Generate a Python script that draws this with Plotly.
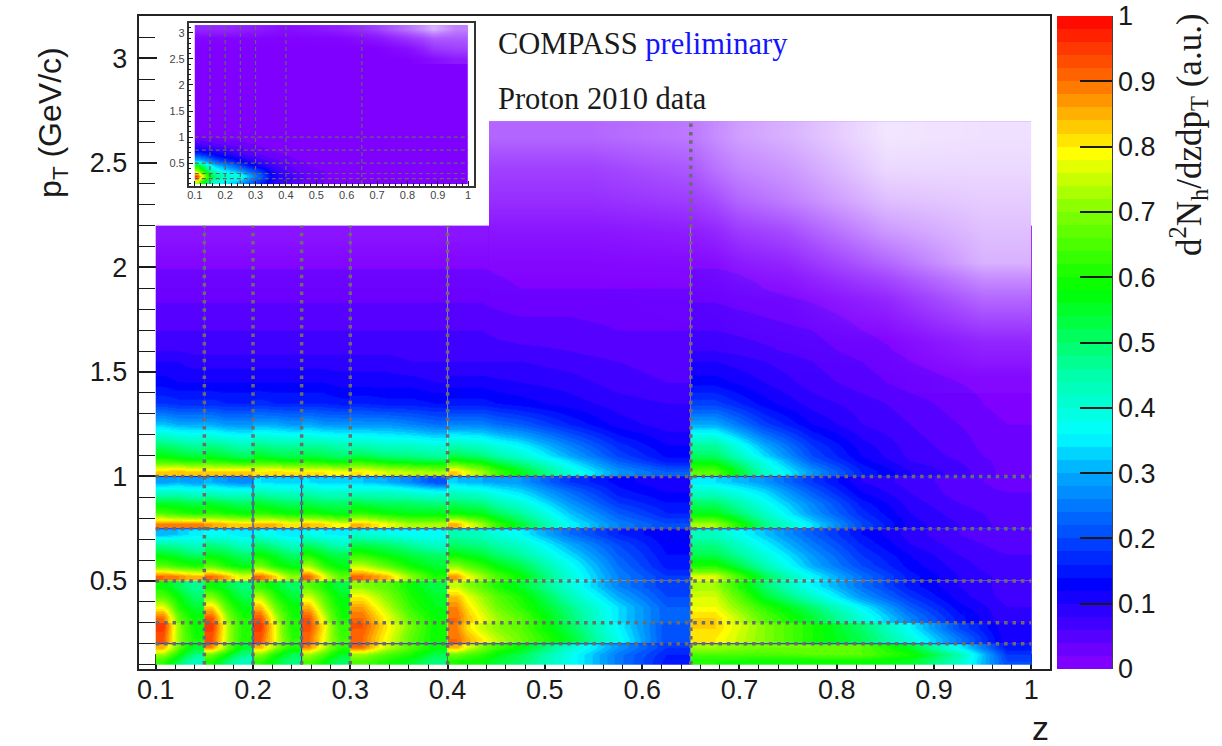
import plotly.graph_objects as go

W, H = 1222, 746

# ---- sub-cell edges in z (one list per analysis z bin)
zbin_edges = [
    [0.10, 0.115, 0.13, 0.15],
    [0.15, 0.165, 0.18, 0.20],
    [0.20, 0.215, 0.23, 0.25],
    [0.25, 0.265, 0.28, 0.30],
    [0.30, 0.325, 0.35, 0.375, 0.40],
    [0.40, 0.42, 0.45, 0.50, 0.55, 0.60, 0.65],
    [0.65, 0.70, 0.75, 0.80, 0.85, 0.90, 0.95, 1.00],
]

# ---- values, in percent of the colour scale; rows run low pT to high pT
pt_edges_a = [0.10, 0.133, 0.166, 0.20]
band_a = [
    [62,52,42, 60,50,42, 62,55,48, 65,58,50, 65,60,55,48, 60,58,50,38,25,15, 60,58,58,58,55,42,20],
    [72,60,48, 68,58,48, 70,60,52, 72,65,55, 72,65,60,52, 68,62,52,38,25,16, 65,65,66,66,60,45,18],
    [85,68,55, 88,70,55, 85,72,60, 88,75,62, 90,75,65,58, 85,70,58,42,28,18, 72,68,68,66,55,36,14],
]
pt_edges_b = [0.20, 0.25, 0.30]
band_b = [
    [92,72,60, 92,75,60, 92,78,62, 90,78,64, 90,78,66,58, 90,80,68,55,38,20, 80,70,60,52,40,25,10],
    [95,72,58, 95,75,60, 95,78,60, 93,80,62, 92,80,68,58, 88,75,66,52,36,20, 82,70,60,50,36,20,10],
]
pt_edges_c = [0.30, 0.35, 0.40, 0.45, 0.50]
band_c = [
    [90,68,58, 92,72,60, 92,75,60, 92,76,60, 90,78,66,58, 90,78,66,50,34,22, 82,66,54,40,26,15,8],
    [78,62,54, 82,66,56, 84,68,58, 85,70,58, 86,74,62,56, 88,75,62,48,34,22, 78,62,50,36,22,13,8],
    [66,58,50, 70,60,52, 74,62,54, 76,66,56, 80,70,60,55, 84,72,60,44,30,20, 76,55,42,28,18,11,7],
    [58,52,46, 58,54,48, 62,56,50, 66,60,52, 70,66,58,52, 75,66,55,40,26,18, 72,50,36,24,15,10,7],
]
pt_edges_d = [0.50, 0.55, 0.60, 0.65, 0.70, 0.75]
band_d = [
    [90,88,84, 90,85,76, 90,82,70, 90,78,66, 90,84,70,60, 86,72,58,40,26,18, 76,52,36,24,15,10,7],
    [66,62,60, 66,60,56, 68,60,56, 72,62,56, 74,66,58,54, 70,62,52,38,24,15, 60,44,30,20,13,9,6],
    [56,54,50, 56,54,50, 58,55,50, 60,55,52, 62,57,53,50, 58,54,46,34,22,14, 52,40,28,18,12,8,6],
    [46,45,42, 48,46,42, 50,46,42, 50,47,43, 52,50,46,42, 50,48,42,30,20,13, 48,36,25,16,10,7,5],
    [30,32,35, 36,36,34, 38,36,34, 38,36,35, 40,38,36,36, 44,42,36,24,16,12, 42,32,22,14,9,6,4],
]
pt_edges_e = [0.75, 0.80, 0.85, 0.90, 0.95, 1.00]
band_e = [
    [88,88,88, 86,84,82, 84,84,80, 84,82,78, 84,78,72,72, 85,72,54,36,26,20, 72,48,34,20,11,8,5],
    [65,62,60, 62,60,58, 62,60,58, 60,58,56, 62,58,56,56, 58,56,46,32,22,16, 56,42,28,17,10,7,5],
    [54,54,52, 54,52,50, 54,52,50, 52,50,50, 52,50,50,48, 50,48,40,28,18,14, 50,38,26,15,9,6,4],
    [42,42,40, 42,40,40, 44,42,42, 44,42,42, 42,42,40,38, 42,40,34,24,15,12, 42,34,22,12,8,5,4],
    [28,30,28, 30,28,26, 34,33,32, 34,32,32, 32,30,26,20, 32,30,28,18,13,10, 34,28,18,10,7,5,3],
]
pt_edges_f = [1.00, 1.05, 1.10, 1.20, 1.30, 1.40, 1.50, 1.60, 1.80, 2.00, 2.20]
band_f = [
    [82,84,82, 82,82,82, 80,82,80, 80,80,78, 80,76,74,72, 82,72,56,40,28,22, 66,42,28,16,10,7,3],
    [64,62,60, 62,60,58, 62,60,58, 60,58,56, 60,56,54,52, 60,56,46,34,22,15, 55,38,22,13,8,6,3],
    [50,48,46, 48,46,44, 48,46,46, 46,46,44, 44,42,42,40, 44,42,36,26,17,12, 46,30,18,11,7,5,2],
    [32,30,30, 30,28,28, 30,30,28, 30,28,28, 28,28,26,24, 26,26,22,16,11,9, 30,19,12,8,6,4,2],
    [18,17,17, 17,16,16, 17,16,16, 16,16,15, 16,15,15,14, 15,15,13,11,9,8, 19,13,9,7,5,3,1],
    [13,12,12, 12,12,12, 12,12,12, 12,12,11, 11,11,11,10, 11,11,10,9,7,6, 13,10,7,5,3,2,1],
    [10,10,9, 9,9,9, 9,9,9, 9,9,9, 9,9,8,8, 8,8,8,7,6,5, 10,8,6,4,2,1,0],
    [6,6,6, 6,6,6, 6,6,6, 6,6,6, 6,6,6,6, 6,6,5,5,4,4, 6,5,4,2,1,0,0],
    [3,3,3, 3,3,3, 3,3,3, 3,3,3, 3,3,3,3, 3,3,2,2,2,2, 3,2,1,0,0,0,0],
    [1,1,1, 1,1,1, 1,1,1, 1,1,1, 1,1,1,1, 1,1,1,1,1,1, 1,1,0,0,0,0,0],
]
top_strip_z = [0.4426, 0.70, 1.00]
top_strip_pt = [2.20, 2.70]
top_strip_values = [[0, 0]]

# share of empty (white) bins where the counts become sparse, percent
sparse_left_z = [0.10, 0.27, 0.4426]
sparse_left_pt = [1.90, 2.00, 2.10, 2.20]
sparse_left = [[1, 1], [3, 3], [8, 8]]
sparse_right_z = [0.4426, 0.65, 0.70, 0.80, 0.90, 1.00]
sparse_right_pt = [1.40, 1.55, 1.75, 1.95, 2.10, 2.25, 2.40, 2.55, 2.70]
sparse_right = [
    [0, 0, 0, 0, 3],
    [0, 0, 1, 2, 15],
    [0, 1, 3, 15, 40],
    [3, 5, 15, 40, 70],
    [8, 15, 30, 60, 75],
    [18, 30, 50, 75, 80],
    [25, 45, 60, 85, 85],
    [40, 55, 70, 90, 88],
]

# ---- inset: raw distribution
inset_z_edges = [0.10, 0.115, 0.14, 0.17, 0.23, 0.27, 0.33, 0.38, 0.45, 0.60, 1.00]
inset_pt_edges = [0.10, 0.20, 0.30, 0.40, 0.50, 0.60, 0.70, 0.80, 0.90, 1.00, 1.10, 3.15]
inset_values = [
    [75, 58, 42, 35, 30, 20, 10, 6, 2, 0],
    [95, 75, 55, 42, 40, 25, 12, 7, 2, 0],
    [72, 60, 45, 35, 28, 20, 10, 5, 2, 0],
    [60, 48, 36, 28, 20, 12, 7, 4, 1, 0],
    [33, 30, 25, 18, 13, 8, 5, 3, 1, 0],
    [22, 20, 16, 12, 8, 5, 3, 2, 0, 0],
    [12, 11, 10, 8, 5, 3, 2, 1, 0, 0],
    [7, 6, 5, 4, 3, 2, 1, 1, 0, 0],
    [4, 3, 3, 2, 2, 1, 1, 0, 0, 0],
    [1, 1, 1, 1, 0, 0, 0, 0, 0, 0],
    [0, 0, 0, 0, 0, 0, 0, 0, 0, 0],
]
inset_sparse_z = [0.10, 0.30, 0.50, 0.65, 0.75, 0.85, 0.92, 1.00]
inset_sparse_pt = [2.40, 2.60, 2.80, 3.00, 3.15]
inset_sparse = [
    [0, 0, 0, 0, 0, 5, 10],
    [0, 0, 0, 0, 5, 20, 25],
    [2, 1, 2, 8, 20, 35, 35],
    [15, 5, 12, 25, 45, 70, 50],
]

# ---- analysis bin limits
z_cuts = [0.15, 0.20, 0.25, 0.30, 0.40, 0.65]
z_cut_tops = [2.20, 2.20, 2.20, 2.20, 2.20, 2.70]
pt_cuts = [0.20, 0.30, 0.50, 0.75, 1.00]
edge_pt_cuts = [0.20, 0.75, 1.00]
edge_z_cuts = [0.20, 0.25]

# ---- palette anchors of the colour scale
palette_pos = [0.00, 0.13, 0.20, 0.30, 0.36, 0.45, 0.58, 0.70, 0.79, 0.85, 0.90, 1.00]
palette_rgb = [(139, 0, 255), (0, 0, 255), (0, 72, 255), (0, 170, 255), (0, 255, 255), (0, 255, 170),
               (0, 255, 0), (128, 255, 0), (255, 255, 0), (255, 176, 0), (255, 110, 0), (255, 0, 0)]
N_LEVELS = 50


def palette(t):
    for i in range(len(palette_pos) - 1):
        a, b = palette_pos[i], palette_pos[i + 1]
        if t <= b:
            f = (t - a) / (b - a)
            c = [round(p + (q - p) * f) for p, q in zip(palette_rgb[i], palette_rgb[i + 1])]
            return f"rgb({c[0]},{c[1]},{c[2]})"
    return "rgb(255,0,0)"


colorscale = []
for k in range(N_LEVELS):
    col = palette((k + 0.5) / N_LEVELS)
    colorscale += [[k / N_LEVELS, col], [(k + 1) / N_LEVELS, col]]

EMPTY_SCALE = [[0, "rgba(255,255,255,0)"], [1, "rgba(255,255,255,1)"]]


def px_x(x):
    return x / W


def px_y(y):
    return 1 - y / H


fig = go.Figure()


def cells(xe, ye, vals, xa="x", ya="y"):
    fig.add_trace(go.Heatmap(x=xe, y=ye, z=[[v / 100 for v in r] for r in vals], coloraxis="coloraxis",
                             zsmooth="best", xaxis=xa, yaxis=ya, hoverinfo="skip"))


def sparse(xe, ye, vals, xa="x", ya="y"):
    fig.add_trace(go.Heatmap(x=xe, y=ye, z=vals, colorscale=EMPTY_SCALE, zmin=0, zmax=100, showscale=False,
                             zsmooth="best", xaxis=xa, yaxis=ya, hoverinfo="skip"))


for edges, table in [(pt_edges_a, band_a), (pt_edges_b, band_b), (pt_edges_c, band_c),
                     (pt_edges_d, band_d), (pt_edges_e, band_e), (pt_edges_f, band_f)]:
    start = 0
    for zb in zbin_edges:
        n = len(zb) - 1
        cells(zb, edges, [row[start:start + n] for row in table])
        start += n
cells(top_strip_z, top_strip_pt, top_strip_values)
sparse(sparse_left_z, sparse_left_pt, sparse_left)
sparse(sparse_right_z, sparse_right_pt, sparse_right)

# thin gaps at some bin borders
for p in edge_pt_cuts:
    fig.add_trace(go.Scatter(x=[0.10, 1.00], y=[p, p], mode="lines", line=dict(color="#1424ff", width=1),
                             hoverinfo="skip", showlegend=False))
for zc in edge_z_cuts:
    fig.add_trace(go.Scatter(x=[zc, zc], y=[0.10, 1.00], mode="lines", line=dict(color="#1424ff", width=1),
                             hoverinfo="skip", showlegend=False))

DOT = dict(color="#6c6c6c", width=3.5, dash="3.5px,4.9px")
for p in pt_cuts:
    fig.add_trace(go.Scatter(x=[0.10, 1.00], y=[p, p], mode="lines", line=DOT, hoverinfo="skip", showlegend=False))
for zc, top in zip(z_cuts, z_cut_tops):
    fig.add_trace(go.Scatter(x=[zc, zc], y=[0.10, top], mode="lines", line=DOT, hoverinfo="skip", showlegend=False))

# inset
cells(inset_z_edges, inset_pt_edges, inset_values, "x2", "y2")
sparse(inset_sparse_z, inset_sparse_pt, inset_sparse, "x2", "y2")
THIN = dict(color="#666666", width=1.2, dash="4px,3px")
for p in pt_cuts:
    fig.add_trace(go.Scatter(x=[0.10, 1.00], y=[p, p], mode="lines", line=THIN, xaxis="x2", yaxis="y2",
                             hoverinfo="skip", showlegend=False))
for zc in z_cuts:
    fig.add_trace(go.Scatter(x=[zc, zc], y=[0.10, 3.15], mode="lines", line=THIN, xaxis="x2", yaxis="y2",
                             hoverinfo="skip", showlegend=False))

SANS = "Liberation Sans"
SERIF = "Liberation Serif"
INK = "#1a1a1a"

fig.update_layout(
    width=W, height=H, margin=dict(l=0, r=0, t=0, b=0), paper_bgcolor="white", plot_bgcolor="white",
    showlegend=False, hovermode=False,
    xaxis=dict(domain=[px_x(137), px_x(1050)], range=[0.0826, 1.0195], dtick=0.1, tick0=0, ticks="inside",
               ticklen=15, tickwidth=1.5, tickcolor=INK, showgrid=False, zeroline=False, showline=True, mirror=True,
               linecolor="#222222", linewidth=2, layer="below traces", ticklabelstandoff=-4,
               tickfont=dict(family=SANS, size=27, color=INK),
               minor=dict(dtick=0.02, ticks="inside", ticklen=8, tickwidth=1.2, tickcolor=INK)),
    yaxis=dict(domain=[px_y(669), px_y(16)], range=[0.079, 3.203], dtick=0.5, tick0=0, ticks="inside",
               ticklen=18, tickwidth=1.5, tickcolor=INK, showgrid=False, zeroline=False, showline=True, mirror=True,
               linecolor="#222222", linewidth=2, layer="below traces", ticklabelstandoff=4,
               tickfont=dict(family=SANS, size=27, color=INK),
               minor=dict(dtick=0.1, ticks="inside", ticklen=16, tickwidth=1.2, tickcolor=INK)),
    xaxis2=dict(domain=[px_x(187), px_x(473)], range=[0.08, 1.02], anchor="y2", dtick=0.1, tick0=0, ticks="inside",
                ticklen=5, tickwidth=1, tickcolor=INK, showgrid=False, zeroline=False, showline=True, mirror=True,
                linecolor="#333333", linewidth=1.5, ticklabelstandoff=-2,
                tickfont=dict(family=SANS, size=11, color="#444444"),
                minor=dict(dtick=0.02, ticks="inside", ticklen=3, tickwidth=1, tickcolor=INK)),
    yaxis2=dict(domain=[px_y(186), px_y(23)], range=[0.06, 3.19], anchor="x2", dtick=0.5, tick0=0, ticks="inside",
                ticklen=5, tickwidth=1, tickcolor=INK, showgrid=False, zeroline=False, showline=True, mirror=True,
                linecolor="#333333", linewidth=1.5, tickfont=dict(family=SANS, size=11, color="#444444"),
                minor=dict(dtick=0.1, ticks="inside", ticklen=3, tickwidth=1, tickcolor=INK)),
    coloraxis=dict(colorscale=colorscale, cmin=0, cmax=1, colorbar=dict(
        x=px_x(1057), xanchor="left", xref="paper", y=px_y(669), yanchor="bottom", yref="paper",
        len=653 / H, lenmode="fraction", thickness=55, thicknessmode="pixels", xpad=0, ypad=0, outlinewidth=0,
        tick0=0, dtick=0.1, ticks="inside", ticklen=32, tickwidth=1.5, tickcolor=INK,
        tickfont=dict(family=SANS, size=27, color=INK))),
    shapes=[dict(type="line", xref="paper", yref="paper", x0=px_x(1112), x1=px_x(1112), y0=px_y(669), y1=px_y(16),
                 line=dict(color="#333333", width=1.5))],
    annotations=[
        dict(text="p<sub>T</sub> (GeV/c)", xref="paper", yref="paper", x=px_x(50), y=px_y(122), textangle=-90,
             showarrow=False, xanchor="center", yanchor="middle", font=dict(family=SANS, size=32, color=INK)),
        dict(text="z", xref="paper", yref="paper", x=px_x(1040), y=px_y(728), showarrow=False, xanchor="center",
             yanchor="middle", font=dict(family=SANS, size=34, color=INK)),
        dict(text="d<sup>2</sup>N<sub>h</sub>/dzdp<sub>T</sub> (a.u.)", xref="paper", yref="paper", x=px_x(1188),
             y=px_y(135), textangle=-90, showarrow=False, xanchor="center", yanchor="middle",
             font=dict(family=SERIF, size=35, color=INK)),
        dict(text="COMPASS <span style='color:#1414ff'>preliminary</span>", xref="paper", yref="paper", x=px_x(495),
             y=px_y(44), showarrow=False, xanchor="left", yanchor="middle", font=dict(family=SERIF, size=30.5, color=INK)),
        dict(text="Proton 2010 data", xref="paper", yref="paper", x=px_x(495), y=px_y(99), showarrow=False,
             xanchor="left", yanchor="middle", font=dict(family=SERIF, size=30.5, color=INK)),
    ],
)

fig.write_html("out.html", config={"displayModeBar": False}, post_script="document.body.style.margin='0';")
